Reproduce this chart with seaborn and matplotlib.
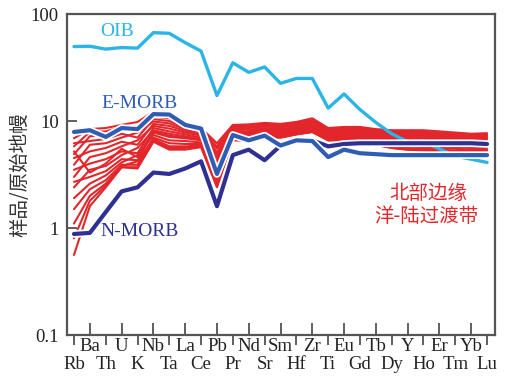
import matplotlib

matplotlib.use("Agg")
import matplotlib.pyplot as plt
import matplotlib.patheffects as pe
from matplotlib.ticker import NullLocator
import numpy as np
import pandas as pd
import seaborn as sns

elements = ["Rb", "Ba", "Th", "U", "K", "Nb", "Ta", "La", "Ce", "Pb", "Pr", "Nd", "Sr", "Sm",
            "Hf", "Zr", "Ti", "Eu", "Gd", "Tb", "Dy", "Y", "Ho", "Er", "Tm", "Yb", "Lu"]

oib = [49.6, 50.0, 47.0, 48.6, 48.0, 67.0, 66.0, 54.0, 45.0, 17.3, 35.0, 28.5, 32.0, 22.5,
       25.0, 25.0, 13.2, 17.9, 12.8, 9.7, 7.6, 6.4, 6.5, 5.5, 4.7, 4.4, 4.1]
e_morb = [7.9, 8.2, 7.1, 8.6, 8.4, 11.6, 11.5, 9.2, 8.5, 3.2, 7.4, 6.6, 7.3, 5.9,
          6.6, 6.5, 4.6, 5.4, 5.0, 4.9, 4.8, 4.8, 4.8, 4.8, 4.8, 4.8, 4.8]
n_morb = [0.88, 0.9, 1.41, 2.2, 2.4, 3.3, 3.2, 3.6, 4.2, 1.6, 4.8, 5.4, 4.3, 5.9,
          6.6, 6.6, 5.8, 6.1, 6.2, 6.2, 6.2, 6.2, 6.2, 6.2, 6.2, 6.2, 6.1]

# samples from the northern margin (ocean-continent transition zone)
samples = [
    [6.9, 8.4, 8.6, 9.2, 9.8, 12.2, 12.0, 9.6, 8.6, 6.2, 9.2, 9.3, 9.6, 9.4, 9.8, 10.6, 8.6, 8.8, 8.8, 8.4, 8.2, 8.2, 8.2, 8.0, 7.8, 7.6, 7.7],
    [5.8, 7.9, 8.0, 8.8, 9.0, 11.5, 11.2, 9.3, 8.4, 5.8, 9.0, 9.0, 9.3, 9.1, 9.5, 10.2, 8.4, 8.5, 8.5, 8.2, 8.0, 8.0, 7.9, 7.8, 7.6, 7.5, 7.5],
    [4.9, 7.2, 7.5, 8.2, 8.5, 11.0, 10.6, 9.0, 8.2, 5.5, 8.8, 8.8, 9.0, 8.9, 9.3, 10.0, 8.2, 8.3, 8.3, 8.0, 7.8, 7.8, 7.7, 7.6, 7.4, 7.3, 7.3],
    [6.2, 6.5, 6.8, 7.6, 7.0, 10.4, 10.0, 8.7, 8.0, 5.1, 8.6, 8.6, 8.9, 8.7, 9.1, 9.7, 8.0, 8.1, 8.1, 7.8, 7.6, 7.6, 7.5, 7.4, 7.2, 7.1, 7.1],
    [3.9, 6.0, 6.2, 7.0, 7.8, 9.9, 9.5, 8.4, 7.8, 4.8, 8.4, 8.3, 8.6, 8.4, 8.8, 9.4, 7.8, 7.9, 7.9, 7.6, 7.4, 7.4, 7.3, 7.2, 7.0, 6.9, 6.9],
    [4.5, 5.2, 5.6, 6.4, 6.0, 9.4, 9.0, 8.1, 7.5, 4.5, 8.1, 8.0, 8.4, 8.2, 8.6, 9.2, 7.6, 7.7, 7.7, 7.4, 7.2, 7.2, 7.1, 7.0, 6.9, 6.8, 6.8],
    [3.0, 4.6, 5.0, 5.8, 6.6, 9.0, 8.5, 7.8, 7.3, 4.2, 7.9, 7.8, 8.2, 8.0, 8.4, 9.0, 7.4, 7.5, 7.5, 7.2, 7.0, 7.0, 6.9, 6.8, 6.7, 6.6, 6.6],
    [3.5, 4.0, 4.4, 5.2, 5.0, 8.6, 8.0, 7.5, 7.0, 4.0, 7.7, 7.6, 8.0, 7.8, 8.2, 8.8, 7.3, 7.4, 7.3, 7.0, 6.8, 6.8, 6.7, 6.6, 6.5, 6.4, 6.4],
    [2.4, 3.5, 3.8, 4.8, 5.6, 8.2, 7.6, 7.2, 6.8, 3.7, 7.5, 7.4, 7.8, 7.6, 8.0, 8.6, 7.1, 7.2, 7.1, 6.8, 6.6, 6.5, 6.4, 6.3, 6.2, 6.1, 6.1],
    [2.7, 3.0, 3.4, 4.4, 4.3, 7.8, 7.1, 6.9, 6.6, 3.4, 7.3, 7.2, 7.6, 7.5, 7.9, 8.5, 7.0, 7.1, 6.9, 6.6, 6.4, 6.2, 6.1, 6.0, 5.9, 5.8, 5.8],
    [1.9, 2.6, 3.1, 4.1, 4.8, 7.4, 6.6, 6.5, 6.3, 3.1, 7.1, 7.0, 7.5, 7.4, 7.8, 8.3, 6.9, 6.9, 6.8, 6.4, 6.1, 6.0, 5.9, 5.8, 5.7, 5.6, 5.6],
    [1.5, 2.3, 2.8, 3.9, 3.9, 7.0, 6.2, 6.1, 6.1, 2.9, 6.9, 6.8, 7.3, 7.2, 7.7, 8.2, 6.8, 6.8, 6.6, 6.2, 5.9, 5.8, 5.7, 5.6, 5.5, 5.4, 5.4],
    [1.1, 2.0, 2.6, 3.8, 4.2, 6.8, 5.8, 5.8, 5.9, 2.7, 6.8, 6.7, 7.2, 7.1, 7.6, 8.0, 6.7, 6.7, 6.5, 6.1, 5.8, 5.6, 5.5, 5.4, 5.3, 5.3, 5.3],
    [0.8, 1.8, 2.5, 3.7, 3.7, 6.6, 5.6, 5.6, 5.8, 2.5, 6.7, 6.6, 7.1, 7.0, 7.5, 7.9, 6.6, 6.6, 6.4, 6.0, 5.6, 5.4, 5.3, 5.2, 5.2, 5.1, 5.1],
    [0.56, 1.6, 2.4, 3.7, 3.6, 6.4, 5.4, 5.4, 5.7, 2.4, 6.6, 6.5, 7.1, 7.0, 7.5, 7.9, 6.6, 6.6, 6.4, 6.0, 5.6, 5.4, 5.3, 5.2, 5.2, 5.1, 5.1],
    [5.2, 3.3, 4.0, 5.5, 4.6, 8.0, 7.3, 7.0, 6.9, 3.6, 7.6, 7.5, 7.9, 7.7, 8.1, 8.7, 7.2, 7.3, 7.2, 6.9, 6.7, 6.6, 6.5, 6.4, 6.3, 6.2, 6.2],
]

sns.set_theme(style="ticks")
plt.rcParams["font.family"] = ["Liberation Serif", "Noto Sans CJK SC"]

fig = plt.figure(figsize=(5.06, 3.8), dpi=100)
ax = fig.add_axes([0.1324, 0.1184, 0.8458, 0.8447])
ax.set_yscale("log")

pos = np.arange(len(elements))
rows = []
for i, vals in enumerate(samples):
    for j, v in enumerate(vals):
        rows.append({"sample": i, "pos": pos[j], "value": v})
df = pd.DataFrame(rows)

sns.lineplot(data=df, x="pos", y="value", units="sample", estimator=None,
             color="#e3262b", lw=1.5, ax=ax, legend=False)

halo = [pe.withStroke(linewidth=5.5, foreground="white")]
sns.lineplot(x=pos, y=oib, color="#2ab5e6", lw=2.4, ax=ax)
sns.lineplot(x=pos, y=n_morb, color="#2e3192", lw=3.0, ax=ax, path_effects=halo)
sns.lineplot(x=pos, y=e_morb, color="#2f5db3", lw=3.0, ax=ax, path_effects=halo)

ax.set_xlim(-0.44, 26.5)
ax.set_ylim(0.1, 100)
ax.set_yticks([0.1, 1, 10, 100])
ax.set_yticklabels(["0.1", "1", "10", "100"])
ax.yaxis.set_minor_locator(NullLocator())

ax.set_xticks(pos[1::2])
ax.set_xticklabels(elements[1::2])
ax.set_xticks(pos[0::2], minor=True)
ax.set_xticklabels(elements[0::2], minor=True)
ax.tick_params(axis="x", which="major", direction="in", length=9, width=1.2,
               pad=2, labelsize=13.5, colors="#444444", labelcolor="#222222")
ax.tick_params(axis="x", which="minor", direction="out", length=7, width=1.2,
               pad=8, labelsize=13.5, colors="#444444", labelcolor="#222222")
ax.tick_params(axis="y", which="major", direction="in", length=7, width=1.2,
               pad=6, labelsize=13.5, colors="#444444", labelcolor="#222222")

for side in ["left", "right", "top", "bottom"]:
    ax.spines[side].set_color("#555555")
    ax.spines[side].set_linewidth(1.6)

ax.set_xlabel("")
ax.set_ylabel("样品/原始地幔", fontsize=14, color="#333333",
              family=["Noto Sans CJK SC", "DejaVu Sans"])
ax.yaxis.set_label_coords(-0.085, 0.5)

ax.text(2.7, 68, "OIB", color="#2ab5e6", fontsize=14, ha="center", va="center")
ax.text(4.1, 14.7, "E-MORB", color="#2f5db3", fontsize=14, ha="center", va="center")
ax.text(4.15, 0.92, "N-MORB", color="#2e3192", fontsize=14, ha="center", va="center")
ax.text(22.3, 2.12, "北部边缘", color="#e3262b", fontsize=14, ha="center", va="center",
        family=["Noto Sans CJK SC", "DejaVu Sans"])
ax.text(22.2, 1.27, "洋-陆过渡带", color="#e3262b", fontsize=14, ha="center", va="center",
        family=["Noto Sans CJK SC", "DejaVu Sans"])

fig.savefig("out.png", dpi=100)
plt.close(fig)
